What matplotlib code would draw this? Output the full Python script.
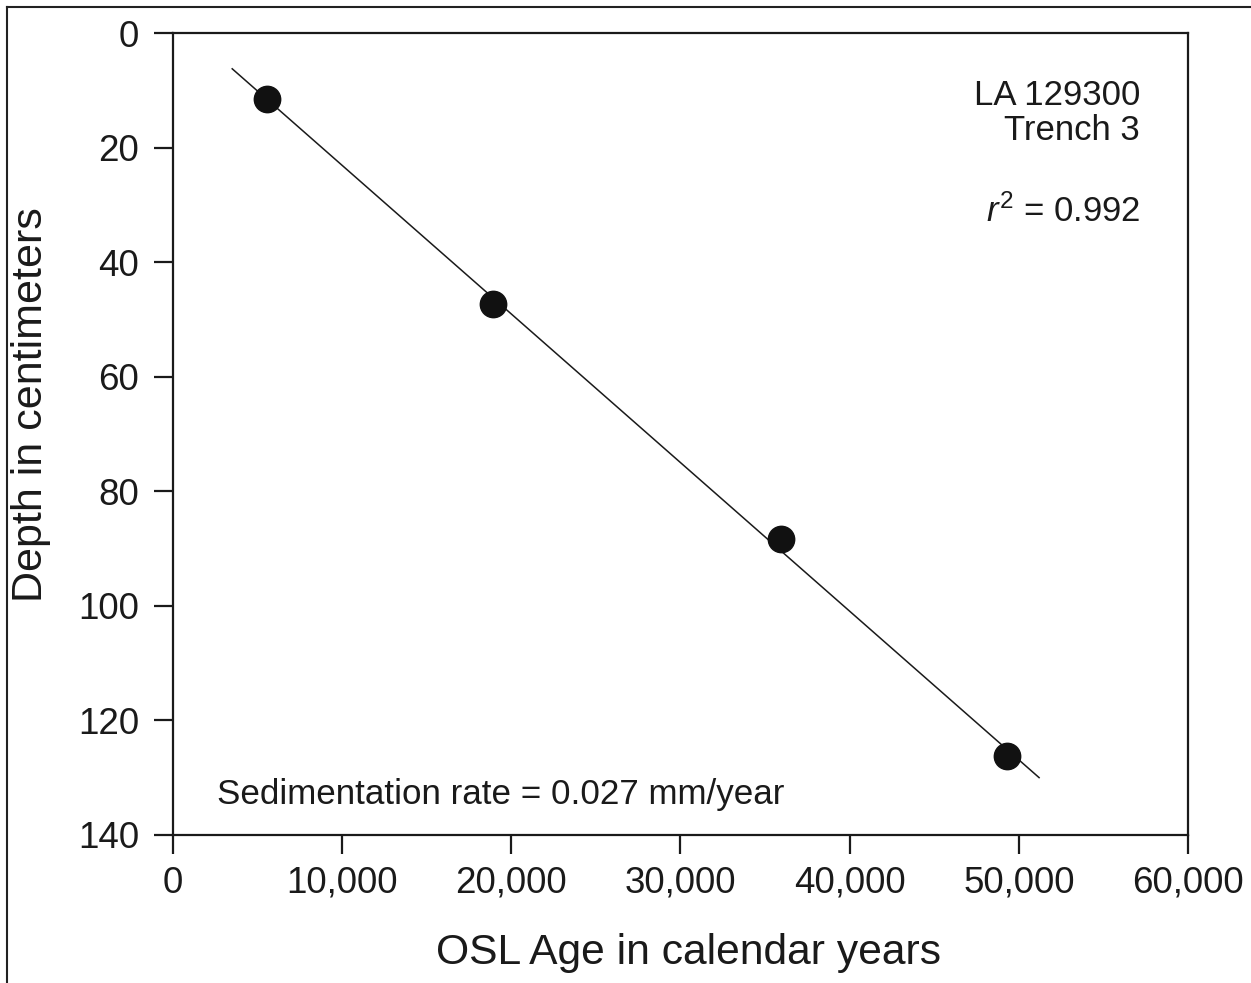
import numpy as np
import matplotlib
matplotlib.use('Agg')
import matplotlib.pyplot as plt
from matplotlib.lines import Line2D

plt.rcParams['font.family'] = ['Liberation Sans', 'DejaVu Sans']
plt.rcParams['mathtext.fontset'] = 'custom'
plt.rcParams['mathtext.rm'] = 'Liberation Sans'
plt.rcParams['mathtext.it'] = 'Liberation Sans:italic'

# OSL ages (years) and depths (cm)
age = [5560, 18920, 35940, 49300]
depth = [11.5, 47.3, 88.3, 126.2]
line_range = [3500, 51200]   # extent of the regression line
xticks = [0, 10000, 20000, 30000, 40000, 50000, 60000]
yticks = [0, 20, 40, 60, 80, 100, 120, 140]

txt = '#1a1a1a'

fig = plt.figure(figsize=(12.51, 9.83), dpi=100)
ax = fig.add_axes([0.1383, 0.1506, 0.8113, 0.8158])

# regression line through the points
k, b = np.polyfit(age, depth, 1)
xl = np.array(line_range)
ax.plot(xl, k*xl + b, color='#1a1a1a', lw=1.1, zorder=2)
ax.plot(age, depth, 'o', color='#111111', ms=19, zorder=3)

ax.set_xlim(0, 60000)
ax.set_ylim(140, 0)
ax.set_xticks(xticks)
ax.set_xticklabels(['{:,}'.format(v) for v in xticks])
ax.set_yticks(yticks)
for s in ax.spines.values():
    s.set_linewidth(1.6)
    s.set_color('#1a1a1a')
ax.tick_params(direction='out', length=14, width=1.6, color='#1a1a1a',
               labelsize=26.5, labelcolor=txt)
ax.tick_params(axis='x', pad=8)
ax.tick_params(axis='y', pad=10.5)

# axis titles (y title sits above the axis centre in the original)
fig.text(688/1251, 1 - 953/983, 'OSL Age in calendar years', fontsize=30.7,
         color=txt, ha='center', va='center')
fig.text(31/1251, 1 - 405/983, 'Depth in centimeters', fontsize=31,
         color=txt, ha='center', va='center', rotation=90)

ax.text(0.953, 0.922, 'LA 129300', transform=ax.transAxes, ha='right',
        va='center', fontsize=25, color=txt)
ax.text(0.953, 0.879, 'Trench 3', transform=ax.transAxes, ha='right',
        va='center', fontsize=25, color=txt)
ax.text(0.953, 0.777, '$\\mathit{r}^{2}$ = 0.992', transform=ax.transAxes,
        ha='right', va='center', fontsize=25, color=txt)
ax.text(0.043, 0.051, 'Sedimentation rate = 0.027 mm/year',
        transform=ax.transAxes, ha='left', va='center', fontsize=25.2, color=txt)

# outer frame lines (left and top only)
fig.add_artist(Line2D([0.0058, 0.0058], [0.0, 0.993], transform=fig.transFigure,
                      color='#222222', lw=1.5))
fig.add_artist(Line2D([0.0058, 1.0], [0.993, 0.993], transform=fig.transFigure,
                      color='#222222', lw=1.5))

fig.savefig('out.png', dpi=100, facecolor='white')
